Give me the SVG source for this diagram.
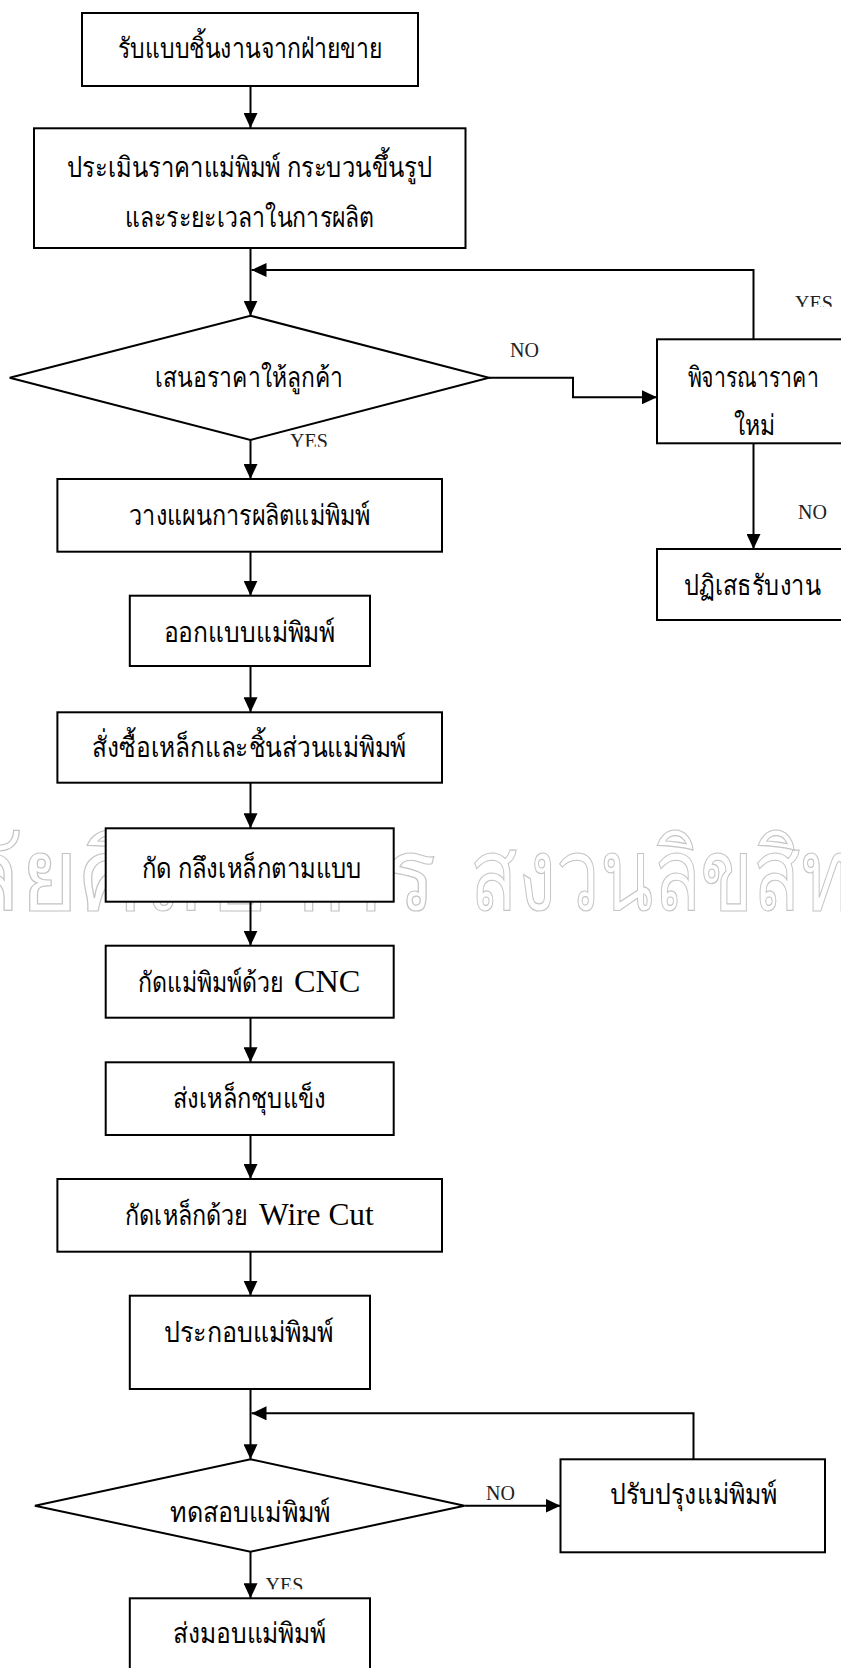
<svg xmlns="http://www.w3.org/2000/svg" width="841" height="1668" viewBox="0 0 841 1668">
  <style>
    .box { fill: #ffffff; stroke: #000000; stroke-width: 2; }
    .edge { fill: none; stroke: #000000; stroke-width: 2; }
    .th { font-family: "Liberation Serif", serif; font-size: 28px; fill: #000000; text-anchor: middle; }
    .lat { font-family: "Liberation Serif", serif; font-size: 31px; fill: #000000; }
    .lbl { font-family: "Liberation Serif", serif; font-size: 20px; fill: #222222; }
    .wm { font-family: "Liberation Sans", sans-serif; font-size: 100px; fill: none; stroke: #c4c4c4; stroke-width: 1.2; }
  </style>
  <defs>
    <marker id="ah" markerUnits="userSpaceOnUse" markerWidth="15" markerHeight="14" refX="15" refY="7" orient="auto">
      <path d="M0,0 L15,7 L0,14 z" fill="#000000"/>
    </marker>
    <clipPath id="clipYes1"><rect x="280" y="425" width="60" height="21.7"/></clipPath>
    <clipPath id="clipYes2"><rect x="785" y="285" width="56" height="21.7"/></clipPath>
    <clipPath id="clipYes3"><rect x="255" y="1568" width="60" height="21.3"/></clipPath>
  </defs>

  <rect width="841" height="1668" fill="#ffffff"/>

  <!-- watermark behind the chart -->
  <g id="watermark">
    <text class="wm" x="437" y="910" text-anchor="end">มหาวิทยาลัยศิลปากร</text>
    <text class="wm" x="470" y="910" textLength="430" lengthAdjust="spacingAndGlyphs">สงวนลิขสิทธิ์</text>
  </g>

  <!-- connectors -->
  <g id="connectors">
    <line class="edge" x1="250.5" y1="86" x2="250.5" y2="128" marker-end="url(#ah)"/>
    <line class="edge" x1="250.5" y1="248" x2="250.5" y2="315.7" marker-end="url(#ah)"/>
    <polyline class="edge" points="753.5,339.3 753.5,270 251.5,270" marker-end="url(#ah)"/>
    <polyline class="edge" points="489,377.7 573,377.7 573,397.3 657,397.3" marker-end="url(#ah)"/>
    <line class="edge" x1="753.5" y1="443.3" x2="753.5" y2="549" marker-end="url(#ah)"/>
    <line class="edge" x1="250.5" y1="440" x2="250.5" y2="479" marker-end="url(#ah)"/>
    <line class="edge" x1="250.5" y1="551.7" x2="250.5" y2="595.7" marker-end="url(#ah)"/>
    <line class="edge" x1="250.5" y1="666" x2="250.5" y2="712.3" marker-end="url(#ah)"/>
    <line class="edge" x1="250.5" y1="782.7" x2="250.5" y2="828.3" marker-end="url(#ah)"/>
    <line class="edge" x1="250.5" y1="901.7" x2="250.5" y2="945.7" marker-end="url(#ah)"/>
    <line class="edge" x1="250.5" y1="1017.7" x2="250.5" y2="1062.3" marker-end="url(#ah)"/>
    <line class="edge" x1="250.5" y1="1135" x2="250.5" y2="1179" marker-end="url(#ah)"/>
    <line class="edge" x1="250.5" y1="1251.7" x2="250.5" y2="1295.7" marker-end="url(#ah)"/>
    <line class="edge" x1="250.5" y1="1389" x2="250.5" y2="1459.3" marker-end="url(#ah)"/>
    <polyline class="edge" points="693.5,1459.3 693.5,1413.3 251.5,1413.3" marker-end="url(#ah)"/>
    <line class="edge" x1="464.5" y1="1505.7" x2="560.5" y2="1505.7" marker-end="url(#ah)"/>
    <line class="edge" x1="250.5" y1="1551.7" x2="250.5" y2="1598.3" marker-end="url(#ah)"/>
    <text class="lbl" x="510" y="357">NO</text>
    <text class="lbl" x="798" y="519">NO</text>
    <text class="lbl" x="486" y="1499.5">NO</text>
    <text class="lbl" x="290" y="448.2" clip-path="url(#clipYes1)">YES</text>
    <text class="lbl" x="795" y="310" clip-path="url(#clipYes2)">YES</text>
    <text class="lbl" x="265.5" y="1591.5" clip-path="url(#clipYes3)">YES</text>
  </g>

  <!-- nodes -->
  <g id="n-receive">
    <rect class="box" x="82" y="13" width="336" height="73"/>
    <text class="th" x="250" y="58" textLength="264" lengthAdjust="spacingAndGlyphs">รับแบบชิ้นงานจากฝ่ายขาย</text>
  </g>
  <g id="n-estimate">
    <rect class="box" x="34" y="128.3" width="431.5" height="119.7"/>
    <text class="th" x="249.5" y="177" textLength="365" lengthAdjust="spacingAndGlyphs">ประเมินราคาแม่พิมพ์ กระบวนขึ้นรูป</text>
    <text class="th" x="249.5" y="226.7" textLength="249" lengthAdjust="spacingAndGlyphs">และระยะเวลาในการผลิต</text>
  </g>
  <g id="n-quote">
    <polygon class="box" points="250.5,315.7 489,377.7 250.5,440 9.7,377.7"/>
    <text class="th" x="249.2" y="387" textLength="188" lengthAdjust="spacingAndGlyphs">เสนอราคาให้ลูกค้า</text>
  </g>
  <g id="n-reprice">
    <rect class="box" x="657" y="339.3" width="200" height="104"/>
    <text class="th" x="753.3" y="387" textLength="131" lengthAdjust="spacingAndGlyphs">พิจารณาราคา</text>
    <text class="th" x="754.3" y="435" textLength="41" lengthAdjust="spacingAndGlyphs">ใหม่</text>
  </g>
  <g id="n-reject">
    <rect class="box" x="657" y="549" width="200" height="71"/>
    <text class="th" x="752.2" y="595" textLength="137" lengthAdjust="spacingAndGlyphs">ปฏิเสธรับงาน</text>
  </g>
  <g id="n-plan">
    <rect class="box" x="57.4" y="479" width="384.6" height="72.7"/>
    <text class="th" x="249.3" y="525" textLength="241" lengthAdjust="spacingAndGlyphs">วางแผนการผลิตแม่พิมพ์</text>
  </g>
  <g id="n-design">
    <rect class="box" x="129.8" y="595.7" width="240.2" height="70.3"/>
    <text class="th" x="249.3" y="641.7" textLength="171.6" lengthAdjust="spacingAndGlyphs">ออกแบบแม่พิมพ์</text>
  </g>
  <g id="n-order">
    <rect class="box" x="57.4" y="712.3" width="384.6" height="70.4"/>
    <text class="th" x="249" y="756.7" textLength="314" lengthAdjust="spacingAndGlyphs">สั่งซื้อเหล็กและชิ้นส่วนแม่พิมพ์</text>
  </g>
  <g id="n-mill">
    <rect class="box" x="105.7" y="828.3" width="288" height="73.4"/>
    <text class="th" x="251.7" y="878" textLength="220" lengthAdjust="spacingAndGlyphs">กัด กลึงเหล็กตามแบบ</text>
  </g>
  <g id="n-cnc">
    <rect class="box" x="105.7" y="945.7" width="288" height="72"/>
    <text class="th" x="210.8" y="991.7" textLength="144.8" lengthAdjust="spacingAndGlyphs">กัดแม่พิมพ์ด้วย</text>
    <text class="lat" x="294" y="991.7" textLength="66.4" lengthAdjust="spacingAndGlyphs">CNC</text>
  </g>
  <g id="n-harden">
    <rect class="box" x="105.7" y="1062.3" width="288" height="72.7"/>
    <text class="th" x="249.2" y="1108" textLength="153" lengthAdjust="spacingAndGlyphs">ส่งเหล็กชุบแข็ง</text>
  </g>
  <g id="n-wirecut">
    <rect class="box" x="57.4" y="1179" width="384.6" height="72.7"/>
    <text class="th" x="186.4" y="1225" textLength="122.8" lengthAdjust="spacingAndGlyphs">กัดเหล็กด้วย</text>
    <text class="lat" x="259" y="1225" textLength="114.8" lengthAdjust="spacingAndGlyphs">Wire Cut</text>
  </g>
  <g id="n-assemble">
    <rect class="box" x="129.8" y="1295.7" width="240.2" height="93.3"/>
    <text class="th" x="248.6" y="1341.7" textLength="170" lengthAdjust="spacingAndGlyphs">ประกอบแม่พิมพ์</text>
  </g>
  <g id="n-test">
    <polygon class="box" points="250.5,1459.3 464.5,1505.7 250.5,1551.7 34.9,1505.7"/>
    <text class="th" x="250.2" y="1521.7" textLength="159.5" lengthAdjust="spacingAndGlyphs">ทดสอบแม่พิมพ์</text>
  </g>
  <g id="n-improve">
    <rect class="box" x="560.5" y="1459.3" width="264.5" height="93"/>
    <text class="th" x="693.2" y="1503.5" textLength="167" lengthAdjust="spacingAndGlyphs">ปรับปรุงแม่พิมพ์</text>
  </g>
  <g id="n-deliver">
    <rect class="box" x="129.8" y="1598.3" width="240.2" height="80"/>
    <text class="th" x="249.3" y="1643" textLength="153" lengthAdjust="spacingAndGlyphs">ส่งมอบแม่พิมพ์</text>
  </g>
</svg>
